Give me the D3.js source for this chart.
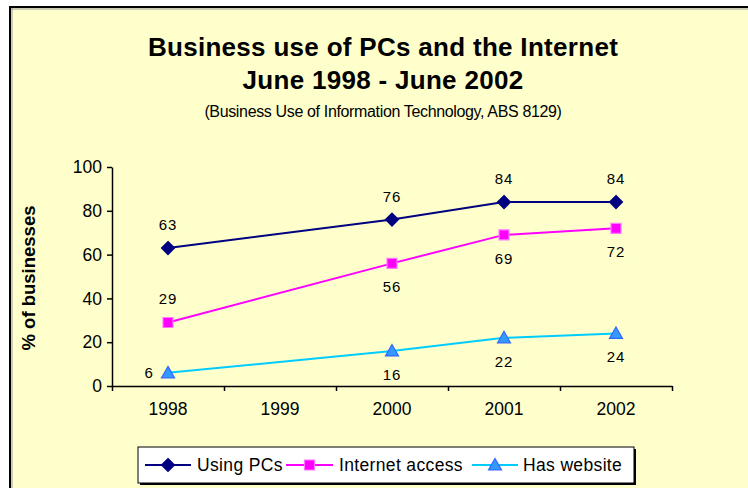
<!DOCTYPE html>
<html>
<head>
<meta charset="utf-8">
<script src="https://cdn.jsdelivr.net/npm/d3@7"></script>
<style>
  html, body { margin: 0; padding: 0; background: #ffffff; }
  svg { display: block; font-family: Arial, "Liberation Sans", sans-serif; }
</style>
</head>
<body>
<svg id="chart" width="748" height="488"></svg>
<script>
// Survey years (1999 had no survey, so every series is blank there)
const years = ["1998", "1999", "2000", "2001", "2002"];
const usingPCs = [63, null, 76, 84, 84];
const internetAccess = [29, null, 56, 69, 72];
const hasWebsite = [6, null, 16, 22, 24];
const yTicks = [0, 20, 40, 60, 80, 100];
const seriesNames = ["Using PCs", "Internet access", "Has website"];

const svg = d3.select("#chart");
const W = 748, H = 488;
const FONT = "Arial, 'Liberation Sans', sans-serif";

// panel background and frame
svg.append("rect").attr("x", 0).attr("y", 0).attr("width", W).attr("height", H).attr("fill", "#ffffff");
svg.append("rect").attr("x", 11).attr("y", 8).attr("width", W).attr("height", H)
  .attr("fill", "#ffffcc");
svg.append("line").attr("x1", 10).attr("x2", 10).attr("y1", 6).attr("y2", H).attr("stroke", "#000").attr("stroke-width", 2);
svg.append("line").attr("x1", 9).attr("x2", W).attr("y1", 7).attr("y2", 7).attr("stroke", "#000").attr("stroke-width", 2);
svg.append("line").attr("x1", 12).attr("x2", 12).attr("y1", 8).attr("y2", H).attr("stroke", "#999").attr("stroke-width", 1);
svg.append("line").attr("x1", 11).attr("x2", W).attr("y1", 9).attr("y2", 9).attr("stroke", "#999").attr("stroke-width", 1);

// titles
const cx = 383;
svg.append("text").attr("x", cx).attr("y", 56).attr("text-anchor", "middle")
  .attr("font-size", 26).attr("font-weight", "bold").attr("letter-spacing", 0.3)
  .text("Business use of PCs and the Internet");
svg.append("text").attr("x", cx).attr("y", 89).attr("text-anchor", "middle")
  .attr("font-size", 26).attr("font-weight", "bold").attr("letter-spacing", 0.3)
  .text("June 1998 - June 2002");
svg.append("text").attr("x", cx).attr("y", 117).attr("text-anchor", "middle")
  .attr("font-size", 16).attr("letter-spacing", -0.35).text("(Business Use of Information Technology, ABS 8129)");

// scales
const x0 = 112, x1 = 672, yTop = 167, yBot = 386;
const x = d3.scaleBand().domain(years).range([x0, x1]).paddingInner(0).paddingOuter(0);
const xEdge = d3.scaleLinear().domain([0, years.length]).range([x0, x1]);
const y = d3.scaleLinear().domain([0, 100]).range([yBot, yTop]);
const px = d => x(d) + x.bandwidth() / 2;

// y axis
const yAxis = svg.append("g").attr("transform", `translate(${x0},0)`)
  .call(d3.axisLeft(y).tickValues(yTicks).tickSize(5).tickSizeOuter(0).tickPadding(5));
yAxis.select(".domain").attr("stroke", "#000").attr("stroke-width", 1.5);
yAxis.selectAll(".tick line").attr("stroke", "#000").attr("stroke-width", 1.5);
yAxis.selectAll(".tick text").attr("font-size", 17.5).attr("fill", "#000").attr("font-family", FONT);

// x axis: ticks at category boundaries, labels centred in each category
const xAxis = svg.append("g").attr("transform", `translate(0,${yBot})`)
  .call(d3.axisBottom(xEdge).tickValues(d3.range(years.length + 1)).tickFormat("").tickSize(5).tickSizeOuter(0));
xAxis.select(".domain").attr("stroke", "#000").attr("stroke-width", 1.5);
xAxis.selectAll(".tick line").attr("stroke", "#000").attr("stroke-width", 1.5);
const xLab = svg.append("g").attr("transform", `translate(0,${yBot})`)
  .call(d3.axisBottom(x).tickSize(0).tickPadding(17));
xLab.select(".domain").remove();
xLab.selectAll(".tick text").attr("font-size", 17.5).attr("fill", "#000").attr("font-family", FONT);

// y axis title
svg.append("text").attr("transform", `translate(35,${278}) rotate(-90)`)
  .attr("text-anchor", "middle").attr("font-size", 18.5).attr("font-weight", "bold")
  .text("% of businesses");

// marker shapes
const markerPath = {
  diamond: "M0,-6.5L6.5,0L0,6.5L-6.5,0Z",
  square: "M-5,-5H5V5H-5Z",
  triangle: "M0,-6.5L6.5,5L-6.5,5Z"
};

// series definitions
const series = [
  { name: seriesNames[0], values: usingPCs, color: "#000080", marker: "diamond", fill: "#000080", stroke: "#000080",
    labelPos: () => "above" },
  { name: seriesNames[1], values: internetAccess, color: "#ff00ff", marker: "square", fill: "#ff00ff", stroke: "#ff77ff",
    labelPos: (i) => i === 0 ? "above" : "below" },
  { name: seriesNames[2], values: hasWebsite, color: "#00ccff", marker: "triangle", fill: "#3399ff", stroke: "#3366ff",
    labelPos: (i) => i === 0 ? "left" : "below" }
];

const line = d3.line().x(d => px(d.year)).y(d => y(d.v));

series.forEach(s => {
  const pts = years.map((yr, i) => ({ year: yr, v: s.values[i], i }))
    .filter(d => d.v !== null);
  svg.append("path").datum(pts).attr("d", line)
    .attr("fill", "none").attr("stroke", s.color).attr("stroke-width", 2);
  svg.append("g").selectAll("path").data(pts).join("path")
    .attr("transform", d => `translate(${px(d.year)},${y(d.v)})`)
    .attr("d", markerPath[s.marker])
    .attr("fill", s.fill).attr("stroke", s.stroke).attr("stroke-width", 1.2);
  svg.append("g").selectAll("text").data(pts).join("text")
    .attr("x", (d, k) => s.labelPos(k) === "left" ? px(d.year) - 19 : px(d.year))
    .attr("y", (d, k) => {
      const p = s.labelPos(k);
      if (p === "above") return y(d.v) - 18;
      if (p === "below") return y(d.v) + 29;
      return y(d.v) + 5;
    })
    .attr("text-anchor", "middle").attr("font-size", 15).attr("letter-spacing", 0.8)
    .attr("fill", "#000").text(d => d.v);
});

// legend
const lg = svg.append("g");
const lx = 138, ly = 447, lw = 496, lh = 36;
lg.append("rect").attr("x", lx + 2).attr("y", ly + 2).attr("width", lw).attr("height", lh).attr("fill", "#000");
lg.append("rect").attr("x", lx).attr("y", ly).attr("width", lw).attr("height", lh)
  .attr("fill", "#fff").attr("stroke", "#000").attr("stroke-width", 1);
const legendItems = [
  { s: series[0], x1: 145, x2: 191, tx: 197 },
  { s: series[1], x1: 286, x2: 333, tx: 339 },
  { s: series[2], x1: 472, x2: 518, tx: 523 }
];
const lyc = ly + lh / 2;
legendItems.forEach(it => {
  lg.append("line").attr("x1", it.x1).attr("x2", it.x2).attr("y1", lyc).attr("y2", lyc)
    .attr("stroke", it.s.color).attr("stroke-width", 2);
  lg.append("path").attr("transform", `translate(${(it.x1 + it.x2) / 2},${lyc})`)
    .attr("d", markerPath[it.s.marker])
    .attr("fill", it.s.fill).attr("stroke", it.s.stroke).attr("stroke-width", 1.2);
  lg.append("text").attr("x", it.tx).attr("y", lyc + 6).attr("font-size", 17.5).attr("letter-spacing", 0.35)
    .attr("fill", "#000").text(it.s.name);
});
</script>
</body>
</html>
